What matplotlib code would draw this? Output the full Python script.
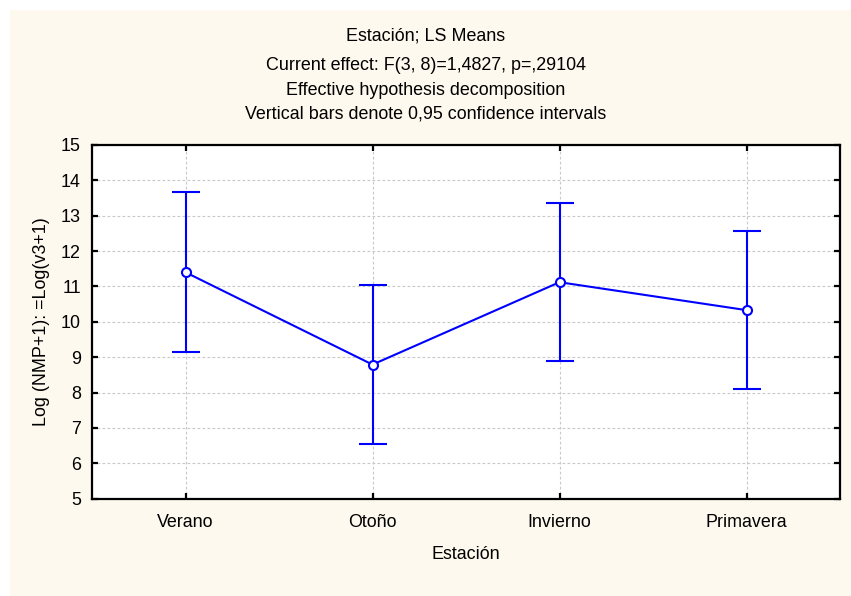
import matplotlib
matplotlib.use("Agg")
import matplotlib.pyplot as plt
from matplotlib.patches import Rectangle

plt.rcParams['font.family'] = ['Liberation Sans', 'DejaVu Sans']

seasons = ["Verano", "Otoño", "Invierno", "Primavera"]
ls_means = [11.40, 8.79, 11.12, 10.33]
ci_half = [2.26, 2.24, 2.23, 2.23]
y_ticks = list(range(5, 16))

title_lines = [
    "Estación; LS Means",
    "Current effect: F(3, 8)=1,4827, p=,29104",
    "Effective hypothesis decomposition",
    "Vertical bars denote 0,95 confidence intervals",
]

W, H = 851, 596
FS = 12.9
fig = plt.figure(figsize=(W / 100, H / 100), dpi=100)
fig.patch.set_facecolor("white")

# cream panel behind the plot
fig.patches.append(Rectangle((10 / W, 0), 1 - 10 / W, 1 - 10 / H,
                             transform=fig.transFigure, facecolor="#FEF9EE",
                             edgecolor="none", zorder=-10))

ax = fig.add_axes([92 / W, (H - 498.6) / H, (840 - 92) / W, (498.6 - 145) / H])
ax.set_facecolor("white")

x = list(range(len(seasons)))
ax.errorbar(x, ls_means, yerr=ci_half, color="#0000FF", lw=1.5,
            elinewidth=1.5, capsize=10, capthick=1.5,
            marker="o", markersize=6.5, markerfacecolor="white",
            markeredgecolor="#0000FF", markeredgewidth=1.5, zorder=3)

ax.set_xlim(-0.5, len(seasons) - 0.5)
ax.set_ylim(5, 15)
ax.set_xticks(x)
ax.set_xticklabels(seasons)
ax.set_yticks(y_ticks)

ax.grid(True, color="#C8C8C8", linestyle=(0, (2.5, 2)), linewidth=0.8, zorder=0)
ax.set_axisbelow(True)

for s in ax.spines.values():
    s.set_linewidth(1.6)
    s.set_color("black")

ax.tick_params(direction="in", length=4, width=1.6, top=True, right=True,
               labelsize=FS, colors="black")
ax.tick_params(axis="x", pad=11)
ax.tick_params(axis="y", pad=8)

ax.set_xlabel("Estación", fontsize=FS, labelpad=11)
ax.set_ylabel("Log (NMP+1): =Log(v3+1)", fontsize=FS, labelpad=8)

ys = [35.7, 65, 90, 114]
for t, yy in zip(title_lines, ys):
    fig.text(0.5, 1 - yy / H, t, ha="center", va="center", fontsize=FS)

fig.savefig("out.png", dpi=100)
